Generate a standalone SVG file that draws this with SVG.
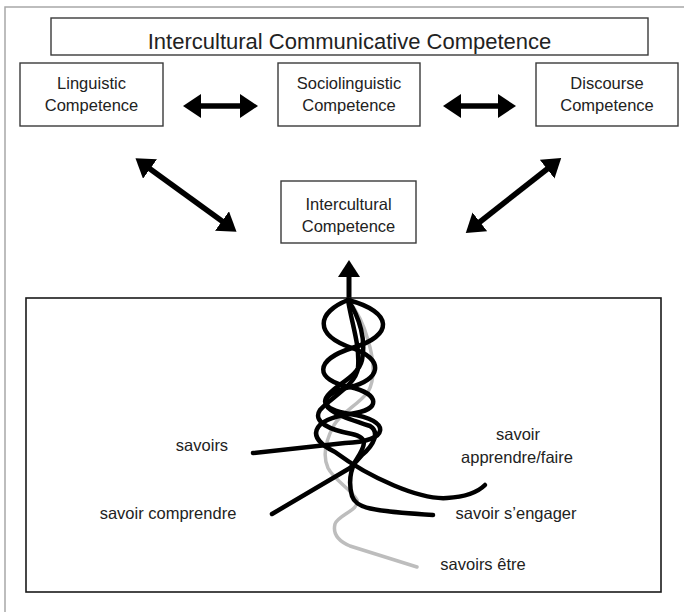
<svg xmlns="http://www.w3.org/2000/svg" width="684" height="612" viewBox="0 0 684 612">
  <style>
    .box { fill: #fff; stroke: #3a3a3a; stroke-width: 1.4; }
    .lbl { font-family: "Liberation Sans", Arial, sans-serif; font-size: 16.5px; fill: #222; text-anchor: middle; }
    .title { font-family: "Liberation Sans", Arial, sans-serif; font-size: 22px; fill: #222; text-anchor: middle; }
    .arr { stroke: #000; stroke-width: 5.5; fill: none; marker-start: url(#head); marker-end: url(#head); }
    .strand { fill: none; stroke: #000; stroke-width: 4.5; stroke-linecap: round; stroke-linejoin: round; }
    .strand-grey { fill: none; stroke: #bdbdbd; stroke-width: 3.5; stroke-linecap: round; }
  </style>
  <defs>
    <marker id="head" viewBox="0 0 18 24" refX="5" refY="12" markerWidth="18" markerHeight="24" markerUnits="userSpaceOnUse" orient="auto-start-reverse">
      <path d="M0,0 L18,12 L0,24 Z" fill="#000"/>
    </marker>
  </defs>

  <rect width="684" height="612" fill="#fff"/>
  <!-- page frame: top and left rules only -->
  <path d="M5,612 V7 H684" fill="none" stroke="#a8a8a8" stroke-width="1.5"/>

  <g id="icc">
    <rect class="box" x="51" y="18" width="597" height="37"/>
    <text class="title" x="349.5" y="49">Intercultural Communicative Competence</text>
  </g>

  <g id="linguistic">
    <rect class="box" x="20" y="63" width="143" height="63"/>
    <text class="lbl" x="91.5" y="89">Linguistic</text>
    <text class="lbl" x="91.5" y="111">Competence</text>
  </g>

  <g id="sociolinguistic">
    <rect class="box" x="278" y="63" width="142" height="63"/>
    <text class="lbl" x="349" y="89">Sociolinguistic</text>
    <text class="lbl" x="349" y="111">Competence</text>
  </g>

  <g id="discourse">
    <rect class="box" x="536" y="63" width="142" height="63"/>
    <text class="lbl" x="607" y="89">Discourse</text>
    <text class="lbl" x="607" y="111">Competence</text>
  </g>

  <g id="intercultural">
    <rect class="box" x="281" y="181" width="135" height="62"/>
    <text class="lbl" x="348.5" y="210">Intercultural</text>
    <text class="lbl" x="348.5" y="232">Competence</text>
  </g>

  <g id="connectors">
    <line class="arr" x1="196" y1="106" x2="245" y2="106"/>
    <line class="arr" x1="456" y1="106" x2="503" y2="106"/>
    <line class="arr" x1="146" y1="166" x2="226" y2="224"/>
    <line class="arr" x1="551" y1="166" x2="476" y2="225"/>
    <!-- upward arrow from the strands into Intercultural Competence -->
    <line x1="349" y1="300" x2="349" y2="272" stroke="#000" stroke-width="5"/>
    <path d="M349,260 L338,277 L360,277 Z" fill="#000"/>
  </g>

  <g id="savoirs-panel">
    <rect x="26" y="298" width="635" height="294" fill="none" stroke="#1a1a1a" stroke-width="1.6"/>

    <!-- savoirs être (grey strand) -->
    <path class="strand-grey" d="M348,300 C358,312 364,325 368,340 C374,360 376,378 368,392 C358,405 342,412 334,425 C326,440 322,455 328,468 C334,480 352,490 357,500 C360,510 338,515 335,524 C333,532 336,540 350,546 L417,567"/>

    <!-- savoirs -->
    <path class="strand" d="M348,300 C318,312 312,334 352,348 C386,360 380,380 350,387 C318,394 318,410 350,414 C392,420 390,442 345,443 L253,453"/>
    <!-- savoir apprendre/faire -->
    <path class="strand" d="M348,300 C394,312 394,336 352,348 C314,360 314,380 350,387 C380,394 382,410 350,414 C310,420 306,438 335,452 C370,478 420,500 447,498 C465,497 478,492 485,485"/>
    <!-- savoir comprendre -->
    <path class="strand" d="M348,300 C360,318 366,340 362,360 C358,378 332,386 326,398 C320,410 345,418 370,426 C380,432 374,445 362,455 C356,462 352,466 350,468 L272,514"/>
    <!-- savoir s'engager -->
    <path class="strand" d="M348,300 C352,325 360,345 358,368 C356,385 330,398 320,410 C312,422 330,430 352,434 C372,438 362,450 355,462 C350,472 349,485 352,496 C356,508 370,511 433,515"/>

    <text class="lbl" x="202" y="451">savoirs</text>
    <text class="lbl" x="168" y="519">savoir comprendre</text>
    <text class="lbl" x="518" y="440">savoir</text>
    <text class="lbl" x="517" y="463">apprendre/faire</text>
    <text class="lbl" x="516" y="519">savoir s’engager</text>
    <text class="lbl" x="483" y="570">savoirs être</text>
  </g>
</svg>
